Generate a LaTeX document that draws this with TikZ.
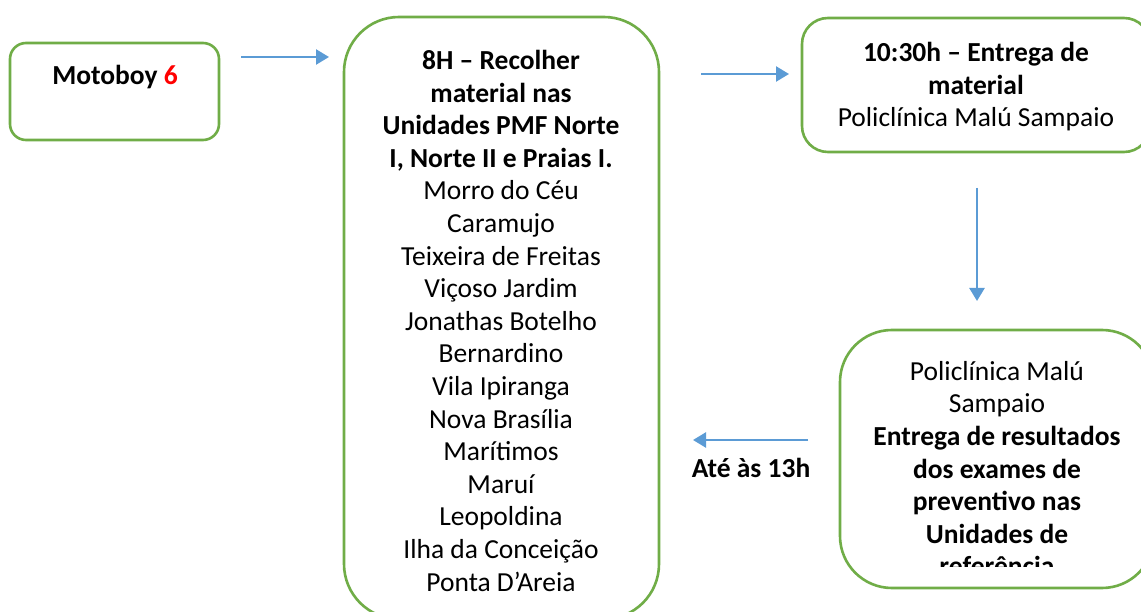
\documentclass[tikz,border=0pt]{standalone}
\usepackage{fontspec}
\setmainfont{Carlito}
\usetikzlibrary{arrows.meta}
\definecolor{boxgreen}{HTML}{70AD47}
\definecolor{arrowblue}{HTML}{5B9BD5}
\definecolor{numred}{HTML}{FF0000}
\tikzset{
  stepbox/.style={draw=boxgreen, line width=2.6pt, fill=none, inner sep=0pt},
  flow/.style={draw=arrowblue, line width=2.4pt, -{Triangle[length=13pt,width=15pt]}},
  txt/.style={align=center, inner sep=0pt, anchor=north, font=\fontsize{27.5}{32.6}\selectfont},
}
\begin{document}
\begin{tikzpicture}[x=1pt,y=-1pt]
\useasboundingbox (0,0) rectangle (1141,612);
\clip (0,0) rectangle (1141,612);
\fill[white] (0,0) rectangle (1141,612);

% boxes
\draw[stepbox, rounded corners=16pt] (10,43) rectangle (219,140);
\node[minimum width=209pt, minimum height=97pt, inner sep=0pt] (b1) at (114.5,91.5) {};
\draw[stepbox, rounded corners=55pt] (344,17) rectangle (659,619);
\node[minimum width=315pt, minimum height=602pt, inner sep=0pt] (b2) at (501.5,318) {};
\draw[stepbox, rounded corners=26pt] (802,18) rectangle (1150,152);
\node[minimum width=348pt, minimum height=134pt, inner sep=0pt] (b3) at (976,85) {};
\draw[stepbox, rounded corners=52pt] (840,330) rectangle (1154,588);
\node[minimum width=314pt, minimum height=258pt, inner sep=0pt] (b4) at (997,459) {};

% texts
\node[txt] (t1) at (115,65) {\textbf{Motoboy \textcolor{numred}{6}}};
\node[txt] (t2) at (501,50) {\textbf{8H – Recolher}\\\textbf{material nas}\\\textbf{Unidades PMF Norte}\\\textbf{I, Norte II e Praias I.}\\Morro do Céu\\Caramujo\\Teixeira de Freitas\\Viçoso Jardim\\Jonathas Botelho\\Bernardino\\Vila Ipiranga\\Nova Brasília\\Marítimos\\Maruí\\Leopoldina\\Ilha da Conceição\\Ponta D’Areia};
\node[txt] (t3) at (976,42) {\textbf{10:30h – Entrega de}\\\textbf{material}\\Policlínica Malú Sampaio};
\begin{scope}
\clip (840,330) rectangle (1160,566);
\node[txt] (t4) at (997,361) {Policlínica Malú\\Sampaio\\\textbf{Entrega de resultados}\\\textbf{dos exames de}\\\textbf{preventivo nas}\\\textbf{Unidades de}\\\textbf{referência}};
\end{scope}

% connectors
\coordinate (a1s) at (241,57);  \coordinate (a1e) at (329,57);
\coordinate (a2s) at (701,74);  \coordinate (a2e) at (789,74);
\coordinate (a3s) at (977,188); \coordinate (a3e) at (977,301);
\coordinate (a4s) at (808,440); \coordinate (a4e) at (693,440);
\draw[flow] (a1s) -- (a1e);
\draw[flow] (a2s) -- (a2e);
\draw[flow] (a3s) -- (a3e);
\draw[flow] (a4s) -- (a4e);
\node[anchor=base, inner sep=0pt, font=\fontsize{27.5}{32}\selectfont\bfseries] (lbl) at (751,477) {Até às 13h};
\end{tikzpicture}
\end{document}
